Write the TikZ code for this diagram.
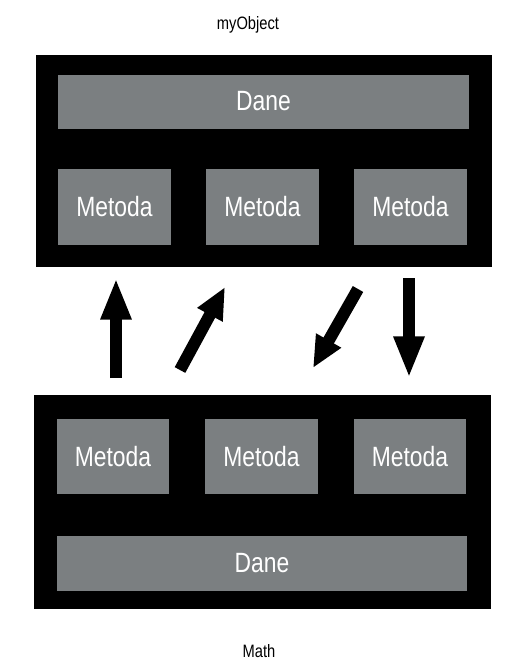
\documentclass[tikz,border=0pt]{standalone}
\usepackage{fontspec}
\newfontfamily\narrowsf[FakeStretch=0.82]{Liberation Sans}
\definecolor{BoxGray}{RGB}{123,127,129}
\usetikzlibrary{arrows.meta}

\begin{document}
\begin{tikzpicture}[
        x=0.03cm, y=-0.03cm,
        frame/.style={fill=black, inner sep=0pt, minimum width=13.7cm, minimum height=6.35cm},
        dane/.style={fill=BoxGray, text=white, inner sep=0pt, minimum width=12.35cm,
                     minimum height=1.62cm, font=\narrowsf\fontsize{23.8}{26}\selectfont},
        met/.style={fill=BoxGray, text=white, inner sep=0pt, minimum width=3.38cm,
                    minimum height=2.26cm, font=\narrowsf\fontsize{23.8}{26}\selectfont},
        lbl/.style={font=\narrowsf\fontsize{15.3}{17}\selectfont, inner sep=0pt},
        arr/.style={line width=0.35cm, -{Triangle[length=1.25cm, width=0.85cm]}},
        arrd/.style={line width=0.36cm, -{Triangle[length=0.95cm, width=0.8cm]}}
      ]
        \useasboundingbox (0,0) rectangle (531,670);
        % myObject
        \node[lbl] (objLbl) at (248,25) {myObject};
        \node[frame] (objFrame) at (264,161) {};
        \node[dane] (objDane) at (263.5,101.5) {Dane};
        \node[met] (objM1) at (114.5,207) {Metoda};
        \node[met] (objM2) at (262.5,207) {Metoda};
        \node[met] (objM3) at (410.5,207) {Metoda};
        % Math
        \node[frame, minimum height=6.42cm] (mathFrame) at (262.5,502) {};
        \node[met] (mathM1) at (113,456.5) {Metoda};
        \node[met] (mathM2) at (261.5,456.5) {Metoda};
        \node[met] (mathM3) at (410,456.5) {Metoda};
        \node[dane, minimum width=12.3cm, minimum height=1.65cm] (mathDane) at (262,563.5) {Dane};
        \node[lbl] (mathLbl) at (259,651) {Math};
        % arrows
        \coordinate (upS) at (116,378);   \coordinate (upE) at (116,278);
        \coordinate (neS) at (180,370);   \coordinate (neE) at (225,287);
        \coordinate (swS) at (358,289);   \coordinate (swE) at (313,368);
        \coordinate (dnS) at (409,278);   \coordinate (dnE) at (409,378);
        \draw[arr]  (upS) -- (upE);
        \draw[arrd] (neS) -- (neE);
        \draw[arrd] (swS) -- (swE);
        \draw[arr]  (dnS) -- (dnE);
      \end{tikzpicture}
\end{document}
